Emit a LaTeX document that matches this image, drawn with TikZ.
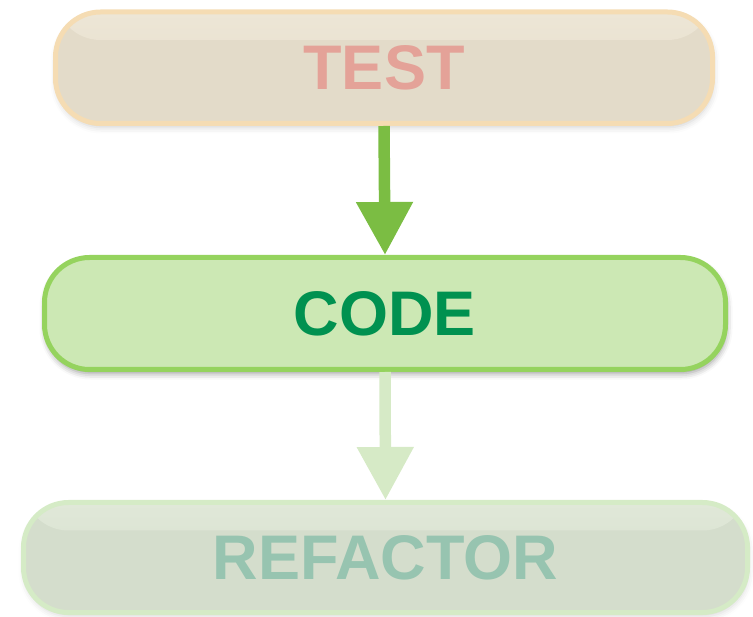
\documentclass[tikz,border=0pt]{standalone}
\usepackage{fontspec}
\setmainfont{Liberation Sans}
\usetikzlibrary{arrows.meta,shadows.blur}

\definecolor{testfill}{HTML}{E3DBC9}
\definecolor{testglow}{HTML}{EDE6D6}
\definecolor{testline}{HTML}{F5DCB3}
\definecolor{testtext}{HTML}{E4A298}
\definecolor{codefill}{HTML}{CCE8B4}
\definecolor{codeline}{HTML}{95D35E}
\definecolor{codetext}{HTML}{009150}
\definecolor{reffill}{HTML}{D4DDCC}
\definecolor{refglow}{HTML}{E0E8D8}
\definecolor{refline}{HTML}{D5EBC6}
\definecolor{reftext}{HTML}{97C4B0}
\definecolor{arrowdark}{HTML}{7BBD43}
\definecolor{arrowlight}{HTML}{D6EAC6}

\tikzset{
  phase/.style={rounded corners=45pt, line width=5pt, inner sep=0pt,
    font=\fontsize{63}{63}\selectfont\bfseries},
  glow/.style 2 args={path picture={
    \fill[top color=#1, bottom color=#2]
      (path picture bounding box.north west) rectangle
      ([yshift=-28pt]path picture bounding box.north east);}},
  softshadow/.style={blur shadow={shadow xshift=1pt, shadow yshift=-4pt,
    shadow blur radius=6pt, shadow opacity=#1}},
  flow/.style={line width=11.5pt, draw=#1,
    -{Triangle[length=53pt, width=54pt, color=#1]}}
}

\begin{document}
\begin{tikzpicture}[x=1pt, y=-1pt]
  \useasboundingbox (0,0) rectangle (753,617);

  \node[phase, softshadow=18, draw=testline, fill=testfill,
        glow={testglow}{testfill},
        text=testtext, minimum width=657pt, minimum height=111.5pt]
        (test) at (384,67.75) {TEST};

  \node[phase, softshadow=40, draw=codeline, fill=codefill,
        text=codetext, minimum width=681pt, minimum height=112pt]
        (code) at (385,313.5) {CODE};

  \node[phase, softshadow=15, draw=refline, fill=reffill,
        glow={refglow}{reffill},
        text=reftext, minimum width=724pt, minimum height=110pt]
        (refactor) at (385.5,557.5) {REFACTOR};

  \draw[flow=arrowdark] (test.south) -- (code.north);
  \draw[flow=arrowlight] (code.south) -- (refactor.north);
\end{tikzpicture}
\end{document}
